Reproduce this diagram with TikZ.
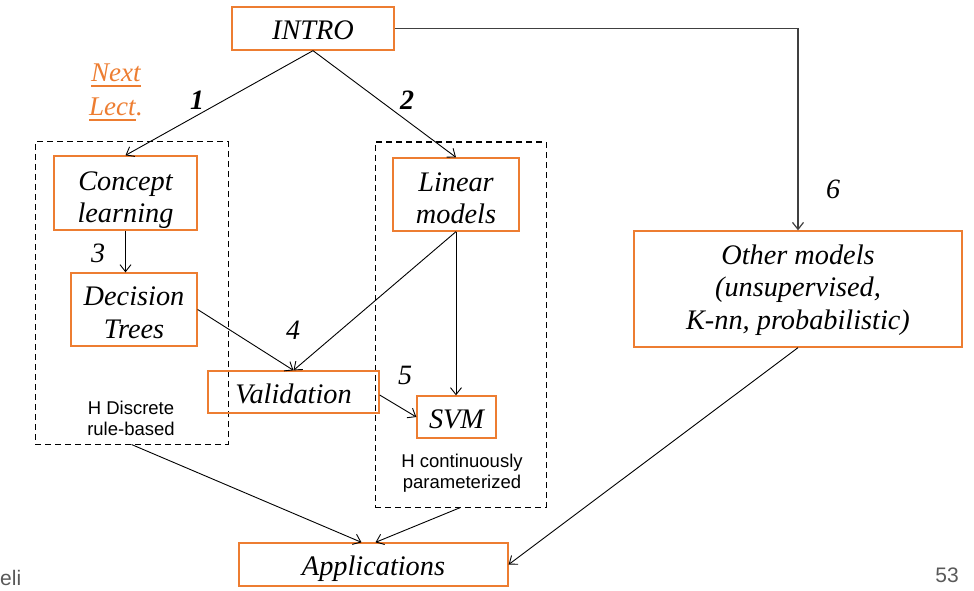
\documentclass[tikz,border=0pt]{standalone}
\usepackage{fontspec}
\setmainfont{Liberation Serif}
\setsansfont{Liberation Sans}
\usetikzlibrary{arrows.meta}
\definecolor{boxorange}{HTML}{ED7D31}
\definecolor{footgray}{HTML}{595959}
\newcommand\boxfont{\fontsize{28.3}{32.5}\selectfont\itshape}
\newcommand\topst[1]{\rule{0pt}{#1pt}}
\newcommand\botst[1]{\rule[-#1pt]{0pt}{0pt}}
\newcommand\onest{\rule[-7pt]{0pt}{37pt}}
\begin{document}
\begin{tikzpicture}[x=1pt,y=-1pt,
  box/.style={draw=boxorange, line width=1.3pt, inner sep=0pt, align=center, font=\boxfont},
  arr/.style={-{Straight Barb[length=7pt,width=11pt]}, line width=0.9pt},
  dashbox/.style={draw, dash pattern=on 6pt off 4pt, line width=1pt, inner sep=0pt},
  num/.style={inner sep=0pt, font=\fontsize{28}{30}\selectfont\itshape},
  bnum/.style={inner sep=0pt, font=\fontsize{28}{30}\selectfont\bfseries\itshape},
  htext/.style={inner sep=0pt, align=center, font=\sffamily\fontsize{18.5}{21}\selectfont},
  foot/.style={inner sep=0pt, text=footgray, font=\sffamily\fontsize{21}{24}\selectfont},
  lecttext/.style={inner sep=0pt, anchor=base west, text=boxorange, font=\fontsize{27}{30}\selectfont\itshape}]
\useasboundingbox (0,0) rectangle (974,591);

% dashed groups
\node[dashbox, minimum width=193pt, minimum height=302pt] (ldash) at (131.5,293) {};
\node[dashbox, minimum width=171pt, minimum height=365pt] (rdash) at (460.5,324.5) {};

% boxes
\node[box, minimum width=162pt, minimum height=43pt] (intro) at (313,28.5) {\onest INTRO};
\node[box, minimum width=143pt, minimum height=74pt] (concept) at (125.5,193) {\topst{34}Concept\\learning\botst{7}};
\node[box, minimum width=126pt, minimum height=73pt] (dt) at (134,309.5) {\topst{32}Decision\\Trees\botst{7}};
\node[box, minimum width=126pt, minimum height=73pt] (linear) at (456,194.5) {\topst{33}Linear\\models\botst{7}};
\node[box, minimum width=171pt, minimum height=42pt] (valid) at (293.5,392) {\rule[-7pt]{0pt}{36pt}Validation};
\node[box, minimum width=79pt, minimum height=42pt] (svm) at (456.5,417) {\onest SVM};
\node[box, minimum width=328pt, minimum height=116pt] (other) at (798,289) {\topst{23}Other models\\(unsupervised,\\K-nn, probabilistic)\botst{8}};
\node[box, minimum width=269pt, minimum height=43pt] (apps) at (373.5,564.5) {\rule[-7pt]{0pt}{35pt}Applications};

% next lecture
\node[lecttext] (next) at (91,82) {Next};
\node[lecttext] (lect) at (89,116) {Lect};
\node[lecttext, anchor=base west] (dot) at (lect.base east) {.};
\draw[boxorange, line width=1.2pt] ([yshift=-4pt]next.base west) -- ([yshift=-4pt]next.base east);
\draw[boxorange, line width=1.2pt] ([yshift=-4pt]lect.base west) -- ([yshift=-4pt]lect.base east);

% group texts
\node[htext] (hdisc) at (131,418) {H Discrete\\rule-based};
\node[htext] (hcont) at (462,473) {H continuously\\parameterized};

% numbers
\node[bnum] (n1) at (197,100) {1};
\node[bnum] (n2) at (407,100) {2};
\node[num] (n3) at (98,253) {3};
\node[num] (n4) at (293,330) {4};
\node[num] (n5) at (405,375) {5};
\node[num] (n6) at (833,189) {6};

% footer
\node[foot, anchor=base west] (foot1) at (0,585) {eli};
\node[foot] (foot2) at (947,575) {53};

% connectors
\draw[arr] (intro.south) -- (concept.north);
\draw[arr] (intro.south) -- (linear.north);
\draw[arr, draw=black!75, line width=1.2pt] (intro.east) -| (other.north);
\draw[arr] (concept.south) -- (concept.south |- dt.north);
\draw[arr] (dt.east) -- (valid.north);
\draw[arr] (linear.south) -- (valid.north);
\draw[arr] (linear.south) -- (linear.south |- svm.north);
\draw[arr] ([yshift=-3pt]valid.east) -- (svm.west);
\draw[arr] (ldash.south) -- ([xshift=-12pt]apps.north);
\draw[arr] (rdash.south) -- ([xshift=2pt]apps.north);
\draw[arr] (other.south) -- (apps.east);
\end{tikzpicture}
\end{document}
